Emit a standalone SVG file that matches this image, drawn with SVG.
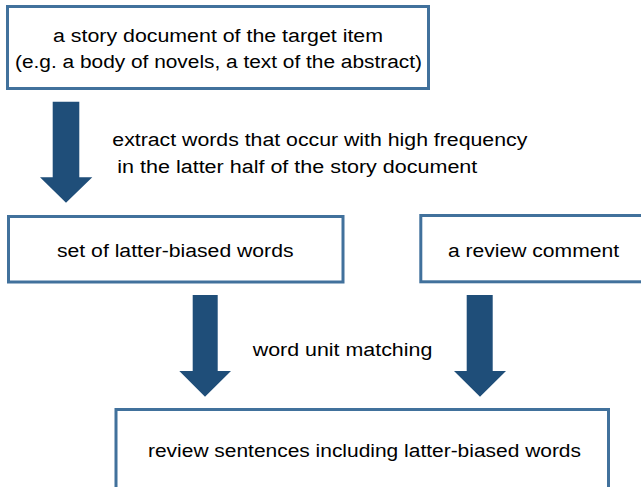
<svg xmlns="http://www.w3.org/2000/svg" width="641" height="487" viewBox="0 0 641 487">
<style>
.box{fill:#ffffff;stroke:#41719C;stroke-width:3}
.arr{fill:#1F4E79}
text{font-family:"Liberation Sans",Arial,sans-serif;font-size:18px;fill:#000000}
</style>
<rect x="0" y="0" width="641" height="487" fill="#ffffff"/>
<g id="connectors">
<path class="arr" d="M52.7,101.7 H79.3 V177.3 H92.3 L66,202.7 L40,177.3 H52.7 Z"/>
<path class="arr" d="M192.7,295 H217.7 V371 H231 L205,396.7 L179.3,371 H192.7 Z"/>
<path class="arr" d="M466.7,295 H492.7 V371 H506 L480,396.7 L454,371 H466.7 Z"/>
<text x="112.3" y="146" textLength="415" lengthAdjust="spacingAndGlyphs">extract words that occur with high frequency</text>
<text x="117.3" y="173.3" textLength="360" lengthAdjust="spacingAndGlyphs">in the latter half of the story document</text>
<text x="252.7" y="355.5" textLength="179.6" lengthAdjust="spacingAndGlyphs">word unit matching</text>
</g>
<g id="story-document">
<rect class="box" x="7.5" y="6.5" width="421" height="82"/>
<text x="53" y="42" textLength="330" lengthAdjust="spacingAndGlyphs">a story document of the target item</text>
<text x="15" y="68.3" textLength="407" lengthAdjust="spacingAndGlyphs">(e.g. a body of novels, a text of the abstract)</text>
</g>
<g id="latter-biased-words">
<rect class="box" x="8.5" y="216.5" width="334.5" height="65.5"/>
<text x="57" y="257" textLength="236.5" lengthAdjust="spacingAndGlyphs">set of latter-biased words</text>
</g>
<g id="review-comment">
<rect class="box" x="420.8" y="215.5" width="240" height="66.3"/>
<text x="448" y="257" textLength="171" lengthAdjust="spacingAndGlyphs">a review comment</text>
</g>
<g id="review-sentences">
<rect class="box" x="116" y="409.5" width="492.5" height="95"/>
<text x="148" y="457" textLength="433" lengthAdjust="spacingAndGlyphs">review sentences including latter-biased words</text>
</g>
</svg>
